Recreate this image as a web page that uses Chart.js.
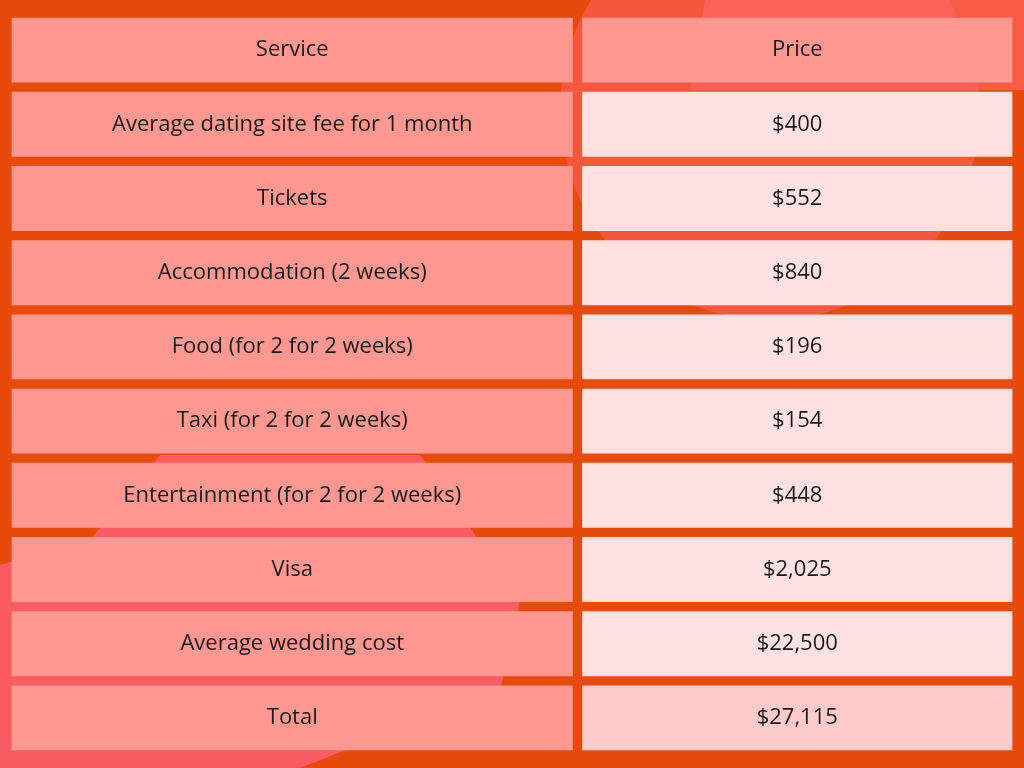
<!DOCTYPE html>
<html><head><meta charset="utf-8">
<script src="https://cdn.jsdelivr.net/npm/chart.js@4"></script>
<style>html,body{margin:0;padding:0;background:#E84A0B}#c{display:block}</style>
</head><body>
<div style="width:1024px;height:768px"><canvas id="c"></canvas></div>
<script>
const headers = ["Service", "Price"];
const services = ["Average dating site fee for 1 month","Tickets","Accommodation (2 weeks)","Food (for 2 for 2 weeks)","Taxi (for 2 for 2 weeks)","Entertainment (for 2 for 2 weeks)","Visa","Average wedding cost","Total"];
const prices = ["$400","$552","$840","$196","$154","$448","$2,025","$22,500","$27,115"];
const colWidths = [570.5, 439.5];

const rows = [headers[0], ...services];
const priceCol = [headers[1], ...prices];
const n = rows.length;

const bg = {
  id:'bg',
  beforeDraw(chart){
    const c = chart.ctx;
    c.save();
    c.fillStyle='#E84A0B'; c.fillRect(0,0,chart.width,chart.height);
    c.fillStyle='rgba(255,100,100,0.7)';
    c.beginPath(); c.moveTo(705,0); c.lineTo(1024,0); c.lineTo(1024,90); c.lineTo(690,90); c.closePath(); c.fill();
    c.fillStyle='rgba(255,100,110,0.5)';
    c.beginPath(); c.arc(770,110,210,0,Math.PI*2); c.fill();
    c.fillStyle='rgba(255,100,130,0.75)';
    c.beginPath(); c.moveTo(160,455); c.lineTo(420,455); c.lineTo(520,600); c.lineTo(500,690); c.lineTo(300,768); c.lineTo(0,768); c.lineTo(0,565); c.lineTo(90,540); c.closePath(); c.fill();
    c.restore();
  }
};
const txt = {
  id:'txt',
  afterDatasetsDraw(chart){
    const c = chart.ctx;
    c.save();
    c.fillStyle='#1a1a1a'; c.font='22px "Open Sans", sans-serif';
    c.textAlign='center'; c.textBaseline='middle';
    [rows, priceCol].forEach((col,di)=>{
      chart.getDatasetMeta(di).data.forEach((el,i)=>{
        const p = el.getProps(['x','y','base'],true);
        c.fillText(col[i], (p.x+p.base)/2, p.y);
      });
    });
    c.restore();
  }
};
const leftColor = '#FF9890';
new Chart(document.getElementById('c'),{
  type:'bar',
  data:{labels:rows,datasets:[
    {data:rows.map(()=>colWidths[0]),backgroundColor:leftColor},
    {data:priceCol.map(()=>colWidths[1]),backgroundColor:priceCol.map((_,i)=>i===0?leftColor:(i===n-1?'#FFCACA':'#FFE1E1'))}
  ]},
  options:{
    indexAxis:'y',responsive:true,maintainAspectRatio:false,animation:false,
    layout:{padding:{left:7,right:7,top:13,bottom:13}},
    datasets:{bar:{barPercentage:1,categoryPercentage:1,borderWidth:5,borderColor:'rgba(0,0,0,0)',borderSkipped:false}},
    scales:{x:{stacked:true,display:false,min:0,max:colWidths[0]+colWidths[1]},y:{stacked:true,display:false}},
    plugins:{legend:{display:false},tooltip:{enabled:false}}
  },
  plugins:[bg,txt]
});
</script></body></html>
